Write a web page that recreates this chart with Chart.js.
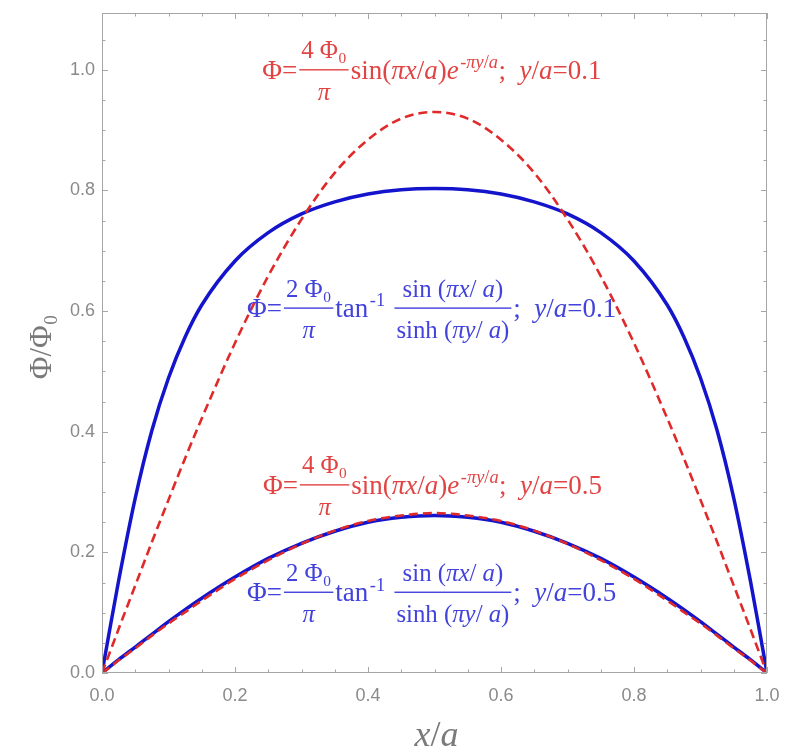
<!DOCTYPE html>
<html>
<head>
<meta charset="utf-8">
<script src="https://cdn.jsdelivr.net/npm/chart.js@4.4.1/dist/chart.umd.min.js"></script>
<style>
  html, body { margin: 0; padding: 0; background: #fff; }
  #wrap { width: 800px; height: 754px; position: relative; }
</style>
</head>
<body>
<div id="wrap"><canvas id="chart"></canvas></div>
<script>
// x/a sample positions
const xVals = [0, 0.01, 0.025, 0.05, 0.075, 0.1, 0.125, 0.15, 0.2, 0.25, 0.3, 0.35, 0.4, 0.45, 0.5,
               0.55, 0.6, 0.65, 0.7, 0.75, 0.8, 0.85, 0.875, 0.9, 0.925, 0.95, 0.975, 0.99, 1];

// red dashed, y/a = 0.1
const redTop = [0, 0.029, 0.073, 0.145, 0.217, 0.287, 0.356, 0.422, 0.547, 0.658, 0.752, 0.829, 0.884, 0.919, 0.930,
                0.919, 0.884, 0.829, 0.752, 0.658, 0.547, 0.422, 0.356, 0.287, 0.217, 0.145, 0.073, 0.029, 0];
// blue solid, y/a = 0.1
const blueTop = [0, 0.062, 0.153, 0.290, 0.402, 0.489, 0.557, 0.610, 0.683, 0.730, 0.761, 0.781, 0.794, 0.801, 0.803,
                 0.801, 0.794, 0.781, 0.761, 0.730, 0.683, 0.610, 0.557, 0.489, 0.402, 0.290, 0.153, 0.062, 0];
// red dashed, y/a = 0.5
const redLow = [0, 0.008, 0.021, 0.041, 0.062, 0.082, 0.101, 0.120, 0.156, 0.187, 0.214, 0.236, 0.252, 0.261, 0.265,
                0.261, 0.252, 0.236, 0.214, 0.187, 0.156, 0.120, 0.101, 0.082, 0.062, 0.041, 0.021, 0.008, 0];
// blue solid, y/a = 0.5
const blueLow = [0, 0.009, 0.022, 0.043, 0.064, 0.085, 0.105, 0.124, 0.159, 0.190, 0.215, 0.235, 0.250, 0.258, 0.261,
                 0.258, 0.250, 0.235, 0.215, 0.190, 0.159, 0.124, 0.105, 0.085, 0.064, 0.043, 0.022, 0.009, 0];

const xTickLabels = ['0.0', '0.2', '0.4', '0.6', '0.8', '1.0'];
const yTickLabels = ['0.0', '0.2', '0.4', '0.6', '0.8', '1.0'];

const RED = '#e02a2a';
const BLUE = '#1414cc';
const RED_TXT = '#e24444';
const BLUE_TXT = '#4242dc';
const FRAME = '#a6a6a6';
const SERIF = '"Liberation Serif", "Times New Roman", serif';

function pts(ys) { return xVals.map((x, i) => ({ x: x, y: ys[i] })); }

// --- tiny formula renderer: strings upright, {i:..} italic, {sup}, {sub}, {num, den}
function fontFor(size, italic) { return (italic ? 'italic ' : '') + size.toFixed(1) + 'px ' + SERIF; }
function measure(ctx, parts, size) {
    let w = 0;
    parts.forEach(p => { w += measurePart(ctx, p, size); });
    return w;
}
function measurePart(ctx, p, size) {
    if (typeof p === 'string') { ctx.font = fontFor(size, false); return ctx.measureText(p).width; }
    if (p.i !== undefined) { ctx.font = fontFor(size, true); return ctx.measureText(p.i).width; }
    if (p.sup) return measure(ctx, p.sup, size * 0.68) + 2;
    if (p.sub) return measure(ctx, p.sub, size * 0.62) + 1;
    if (p.num) return Math.max(measure(ctx, p.num, size * 0.92), measure(ctx, p.den, size * 0.92)) + 8;
    return 0;
}
function drawParts(ctx, parts, x, base, size) {
    parts.forEach(p => { x += drawPart(ctx, p, x, base, size); });
    return x;
}
function drawPart(ctx, p, x, base, size) {
    if (typeof p === 'string') {
        ctx.font = fontFor(size, false); ctx.fillText(p, x, base); return ctx.measureText(p).width;
    }
    if (p.i !== undefined) {
        ctx.font = fontFor(size, true); ctx.fillText(p.i, x, base); return ctx.measureText(p.i).width;
    }
    if (p.sup) { drawParts(ctx, p.sup, x + 1.5, base - size * 0.4, size * 0.68); return measurePart(ctx, p, size); }
    if (p.sub) { drawParts(ctx, p.sub, x + 0.5, base + size * 0.2, size * 0.62); return measurePart(ctx, p, size); }
    if (p.num) {
        const fs = size * 0.92;
        const w = measurePart(ctx, p, size);
        const nw = measure(ctx, p.num, fs), dw = measure(ctx, p.den, fs);
        const bar = base - size * 0.34;
        ctx.fillRect(x + 2, bar - 0.6, w - 4, 1.4);
        drawParts(ctx, p.num, x + (w - nw) / 2, bar - size * 0.42, fs);
        drawParts(ctx, p.den, x + (w - dw) / 2, bar + size * 1.12, fs);
        return w;
    }
    return 0;
}

const expForm = (ya) => ['\u03A6=', { num: ['4 \u03A6', { sub: ['0'] }], den: [{ i: '\u03C0' }] },
    'sin(', { i: '\u03C0x' }, '/', { i: 'a' }, ')', { i: 'e' },
    { sup: ['-', { i: '\u03C0y' }, '/', { i: 'a' }] }, ';  ', { i: 'y' }, '/', { i: 'a' }, '=' + ya];
const atanForm = (ya) => ['\u03A6=', { num: ['2 \u03A6', { sub: ['0'] }], den: [{ i: '\u03C0' }] },
    'tan', { sup: ['-1'] }, ' ',
    { num: ['sin (', { i: '\u03C0x' }, '/ ', { i: 'a' }, ')'], den: ['sinh (', { i: '\u03C0y' }, '/ ', { i: 'a' }, ')'] },
    ';  ', { i: 'y' }, '/', { i: 'a' }, '=' + ya];

// anchor: left edge, fraction-bar height (data units)
const notes = [
    { x: 0.241, y: 1.000, color: RED_TXT, parts: expForm('0.1') },
    { x: 0.218, y: 0.605, color: BLUE_TXT, parts: atanForm('0.1') },
    { x: 0.242, y: 0.312, color: RED_TXT, parts: expForm('0.5') },
    { x: 0.218, y: 0.134, color: BLUE_TXT, parts: atanForm('0.5') }
];

const framePlugin = {
    id: 'frame',
    afterDatasetsDraw(chart) {
        const ctx = chart.ctx, a = chart.chartArea;
        const xs = chart.scales.x, ys = chart.scales.y;
        ctx.save();
        ctx.strokeStyle = FRAME;
        ctx.lineWidth = 1;
        ctx.strokeRect(a.left + 0.5, a.top + 0.5, a.right - a.left - 1, a.bottom - a.top - 1);
        ctx.beginPath();
        for (let k = 0; k <= 20; k++) {
            const v = k * 0.05;
            const len = (k % 4 === 0) ? 6 : 3.5;
            const px = Math.round(xs.getPixelForValue(v)) + 0.5;
            ctx.moveTo(px, a.bottom); ctx.lineTo(px, a.bottom - len);
            ctx.moveTo(px, a.top); ctx.lineTo(px, a.top + len);
        }
        for (let k = 0; k <= 21; k++) {
            const v = k * 0.05;
            const len = (k % 4 === 0) ? 6 : 3.5;
            const py = Math.round(ys.getPixelForValue(v)) + 0.5;
            ctx.moveTo(a.left, py); ctx.lineTo(a.left + len, py);
            ctx.moveTo(a.right, py); ctx.lineTo(a.right - len, py);
        }
        ctx.stroke();

        // formulas
        ctx.textBaseline = 'alphabetic';
        ctx.textAlign = 'left';
        const S = 27;
        notes.forEach(n => {
            ctx.fillStyle = n.color;
            const x0 = xs.getPixelForValue(n.x);
            const bar = ys.getPixelForValue(n.y);
            drawParts(ctx, n.parts, x0, bar + S * 0.34, S);
        });

        // axis titles
        ctx.fillStyle = '#7a7a7a';
        const xt = [{ i: 'x' }, '/', { i: 'a' }];
        const xw = measure(ctx, xt, 36);
        drawParts(ctx, xt, (a.left + a.right) / 2 - xw / 2 + 2, 746, 36);
        ctx.translate(51, 347);
        ctx.rotate(-Math.PI / 2);
        const yt = ['\u03A6/\u03A6', { sub: ['0'] }];
        const yw = measure(ctx, yt, 31);
        drawParts(ctx, yt, -yw / 2, 0, 31);
        ctx.restore();
    }
};

const lineDs = (label, ys, color, dashed) => ({
    label: label,
    data: pts(ys),
    borderColor: color,
    borderWidth: dashed ? 2.6 : 3.5,
    borderDash: dashed ? [9, 5] : [],
    pointRadius: 0,
    fill: false,
    cubicInterpolationMode: 'monotone'
});

new Chart(document.getElementById('chart').getContext('2d'), {
    type: 'line',
    data: {
        datasets: [
            lineDs('exp y/a=0.1', redTop, RED, true),
            lineDs('atan y/a=0.1', blueTop, BLUE, false),
            lineDs('exp y/a=0.5', redLow, RED, true),
            lineDs('atan y/a=0.5', blueLow, BLUE, false)
        ]
    },
    options: {
        responsive: true,
        maintainAspectRatio: false,
        animation: false,
        layout: { padding: { left: 0, top: 13, right: 33, bottom: 0 } },
        plugins: { legend: { display: false }, tooltip: { enabled: false } },
        scales: {
            x: {
                type: 'linear',
                min: 0, max: 1,
                grid: { display: false, drawTicks: false },
                border: { display: false },
                afterFit: s => { s.height = 81; s.paddingLeft = 0; s.paddingRight = 0; },
                ticks: {
                    stepSize: 0.2,
                    padding: 12,
                    color: '#8a8a8a',
                    font: { family: '"Liberation Sans", Arial, sans-serif', size: 18 },
                    callback: (v) => xTickLabels[Math.round(v / 0.2)]
                }
            },
            y: {
                type: 'linear',
                min: 0, max: 1.094,
                grid: { display: false, drawTicks: false },
                border: { display: false },
                afterFit: s => { s.width = 102; s.paddingTop = 0; s.paddingBottom = 0; },
                ticks: {
                    stepSize: 0.2,
                    includeBounds: false,
                    padding: 7,
                    color: '#8a8a8a',
                    font: { family: '"Liberation Sans", Arial, sans-serif', size: 18 },
                    callback: (v) => yTickLabels[Math.round(v / 0.2)]
                }
            }
        }
    },
    plugins: [framePlugin]
});
</script>
</body>
</html>
